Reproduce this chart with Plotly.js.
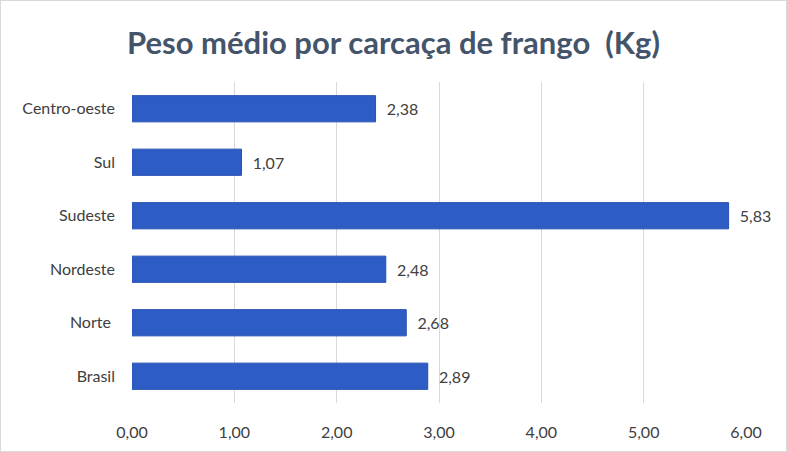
<!DOCTYPE html>
<html>
<head>
<meta charset="utf-8">
<script src="https://cdn.plot.ly/plotly-3.0.1.min.js"></script>
<style>
html,body{margin:0;padding:0;background:#fff;}
#wrap{position:absolute;left:0;top:0;width:785px;height:450px;border:1px solid #d9d9d9;}
#chart{width:787px;height:452px;position:absolute;left:0;top:0;}
</style>
</head>
<body>
<div id="chart"></div>
<div id="wrap"></div>
<script>
const categories = ["Brasil", "Norte ", "Nordeste", "Sudeste", "Sul", "Centro-oeste"];
const values = [2.89, 2.68, 2.48, 5.83, 1.07, 2.38];
const tickValues = [0, 1, 2, 3, 4, 5, 6];

const FONT = 'Lato, "Open Sans", sans-serif';

const trace = {
  type: 'bar',
  orientation: 'h',
  y: categories,
  x: values,
  width: 0.49,
  marker: {color: '#2D5CC4', line: {color: '#2750B3', width: 1}},
  text: values.map(v => '\u00a0\u00a0' + v.toFixed(2).replace('.', ',')),
  textposition: 'outside',
  cliponaxis: false,
  textfont: {family: FONT, size: 16, color: '#404040'},
  hoverinfo: 'none'
};

const layout = {
  width: 787, height: 452,
  margin: {l: 132, r: 41, t: 82, b: 49},
  paper_bgcolor: '#ffffff',
  plot_bgcolor: '#ffffff',
  separators: ',.',
  showlegend: false,
  title: {
    text: '<b>Peso médio por carcaça de frango  (Kg)</b>',
    font: {family: FONT, size: 31, color: '#44546A'},
    x: 0.5, xanchor: 'center', y: 0.905, yanchor: 'middle'
  },
  xaxis: {
    range: [0, 6],
    tickvals: tickValues,
    tickformat: '.2f',
    showgrid: true, gridcolor: '#d9d9d9', gridwidth: 1,
    zeroline: false, showline: false,
    ticks: '', ticklen: 0,
    ticklabelstandoff: 18,
    tickfont: {family: FONT, size: 16, color: '#404040'},
    fixedrange: true
  },
  yaxis: {
    showgrid: false, zeroline: false, showline: false,
    ticks: '',
    ticklabelstandoff: 16,
    tickfont: {family: FONT, size: 16, color: '#404040'},
    fixedrange: true
  },
  bargap: 0.5
};

Plotly.newPlot('chart', [trace], layout, {displayModeBar: false, staticPlot: true});
</script>
</body>
</html>
